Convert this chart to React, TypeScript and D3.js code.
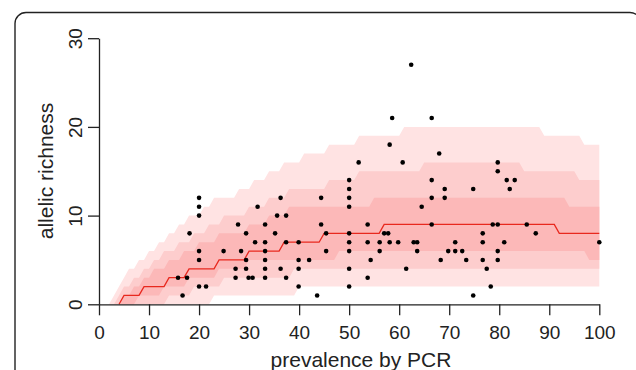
import * as React from 'react';
import * as d3 from 'd3';

// scatter: prevalence by PCR (%) vs allelic richness
const prevalence = [15.8, 16.7, 17.6, 18.1, 20, 20, 20, 20, 20, 20, 21.4, 24.9, 27.3, 27.3, 27.8, 28.4, 29.4, 29.4, 29.4, 29.9, 30.7, 31.2, 31.7, 33.2, 33.2, 33.2, 33.2, 33.2, 33.2, 35.2, 35.6, 36.3, 36.3, 37.4, 37.4, 37.4, 39.9, 39.9, 39.9, 39.9, 42.0, 43.6, 44.4, 44.4, 45.4, 45.4, 50, 50, 50, 50, 50, 50, 50, 50, 50, 51.9, 53.7, 53.7, 53.7, 54.3, 56.1, 56.1, 57.0, 57.8, 58.1, 58.1, 58.6, 59.8, 60.7, 61.4, 62.4, 62.9, 63.6, 63.6, 64.5, 66.5, 66.5, 66.5, 66.5, 68.0, 68.3, 69.1, 69.1, 69.8, 71.2, 71.2, 72.6, 73.4, 74.8, 74.8, 76.7, 76.7, 76.7, 77.5, 78.3, 78.7, 79.7, 79.7, 79.7, 79.7, 79.7, 81.0, 81.5, 82.1, 83.1, 85.5, 87.3, 100];
const richness = [3, 1, 3, 8, 12, 11, 10, 6, 5, 2, 2, 6, 4, 3, 9, 6, 8, 5, 4, 3, 3, 7, 11, 9, 7, 6, 5, 4, 3, 8, 10, 12, 4, 10, 7, 3, 7, 5, 4, 2, 5, 1, 12, 9, 8, 6, 14, 13, 12, 11, 8, 7, 6, 4, 2, 16, 9, 7, 3, 5, 7, 6, 8, 8, 18, 7, 21, 7, 16, 4, 27, 7, 7, 6, 11, 21, 14, 12, 9, 17, 5, 13, 12, 6, 7, 6, 6, 5, 13, 1, 8, 7, 5, 4, 2, 9, 16, 15, 9, 6, 5, 7, 14, 13, 14, 9, 8, 7];

// step edges of the envelopes: [prevalence where a level starts, level]
const outerUpper = [[2, 0], [3, 1], [4, 2], [5, 3], [6, 4], [8, 5], [10, 6], [12, 7], [14, 8], [16, 9], [18, 10], [21, 11], [23, 12], [28, 13], [31, 14], [34, 15], [37, 16], [41, 17], [46, 18], [52, 19], [61, 20], [89, 19], [97, 18]];
const outerLower = [[2, 0], [23, 1], [40, 2]];
const middleUpper = [[3, 0], [4, 1], [5, 2], [7, 3], [9, 4], [11, 5], [13, 6], [16, 7], [19, 8], [22, 9], [25, 10], [30, 11], [34, 12], [38, 13], [46, 14], [52, 15], [65, 16], [85, 15], [96, 14]];
const middleLower = [[3, 0], [14, 1], [19, 2], [25, 3], [39, 4]];
const innerUpper = [[4, 0], [5, 1], [7, 2], [9, 3], [11, 4], [14, 5], [17, 6], [20, 7], [24, 8], [30, 9], [34, 10], [38, 11], [55, 12], [94, 11]];
const innerLower = [[4, 0], [8, 1], [13, 2], [18, 3], [24, 4], [30, 5], [48, 6], [98, 5]];
const median = [[4, 0], [5, 1], [9, 2], [14, 3], [18, 4], [24, 5], [30, 6], [37, 7], [45, 8], [57, 9], [92, 8]];

const xTicks = [0, 10, 20, 30, 40, 50, 60, 70, 80, 90, 100];
const yTicks = [0, 10, 20, 30];

const stepPoints = (steps: number[][], end = 100) => {
  const pts: [number, number][] = [];
  steps.forEach((s, i) => {
    const next = i < steps.length - 1 ? steps[i + 1][0] - 1 : end;
    pts.push([s[0], s[1]]);
    if (next > s[0]) pts.push([next, s[1]]);
  });
  return pts;
};

export default function App() {
  const ref = React.useRef<SVGSVGElement>(null);

  React.useEffect(() => {
    const svg = d3.select(ref.current);
    svg.selectAll('*').remove();

    const x = d3.scaleLinear().domain([0, 100]).range([99, 599.3]);
    const y = d3.scaleLinear().domain([0, 30]).range([304.3, 38.2]);
    const font = '"Liberation Sans", Arial, Helvetica, sans-serif';

    // panel frame
    svg.append('rect')
      .attr('x', 15).attr('y', 12.5).attr('width', 626).attr('height', 420)
      .attr('rx', 11).attr('fill', 'none').attr('stroke', '#222').attr('stroke-width', 1.4);

    const line = d3.line<[number, number]>().x(d => x(d[0])).y(d => y(d[1]));
    const bands = [
      {up: outerUpper, lo: outerLower, fill: '#ffe3e3'},
      {up: middleUpper, lo: middleLower, fill: '#fdcdcd'},
      {up: innerUpper, lo: innerLower, fill: '#fcb8b8'},
    ];
    bands.forEach(b => {
      const pts = stepPoints(b.up).concat(stepPoints(b.lo).reverse());
      svg.append('path').attr('d', line(pts) + 'Z').attr('fill', b.fill);
    });

    svg.append('path')
      .attr('d', line(stepPoints(median)))
      .attr('fill', 'none').attr('stroke', '#e8281e').attr('stroke-width', 1.3);

    // axes
    const gx = svg.append('g').attr('transform', 'translate(0,304.3)')
      .call(d3.axisBottom(x).tickValues(xTicks).tickSize(11).tickSizeOuter(0));
    gx.selectAll('text').attr('y', 35).attr('dy', null)
      .style('font-family', font).style('font-size', '19px').attr('fill', '#222');

    const gy = svg.append('g').attr('transform', 'translate(99,0)')
      .call(d3.axisLeft(y).tickValues(yTicks).tickSize(11).tickSizeOuter(0));
    gy.selectAll('text')
      .attr('x', 0).attr('y', -17).attr('dy', null)
      .attr('transform', 'rotate(-90)')
      .attr('text-anchor', 'middle')
      .style('font-family', font).style('font-size', '19px').attr('fill', '#222');

    svg.selectAll('.domain, .tick line').attr('stroke', '#222').attr('stroke-width', 1.3);

    svg.append('text')
      .attr('x', 361).attr('y', 367)
      .attr('text-anchor', 'middle')
      .style('font-family', font).style('font-size', '21px').attr('fill', '#222')
      .text('prevalence by PCR');

    svg.append('text')
      .attr('transform', 'translate(53,171) rotate(-90)')
      .attr('text-anchor', 'middle')
      .style('font-family', font).style('font-size', '21px').attr('fill', '#222')
      .text('allelic richness');

    // points
    svg.append('g').selectAll('circle')
      .data(prevalence.map((p, i) => [p, richness[i]]))
      .enter().append('circle')
      .attr('cx', d => x(d[0])).attr('cy', d => y(d[1]))
      .attr('r', 2.3).attr('fill', '#000');
  }, []);

  return (
    <svg ref={ref} width={636} height={370}
      style={{position: 'absolute', left: 0, top: 0, background: '#fff'}}></svg>
  );
}
